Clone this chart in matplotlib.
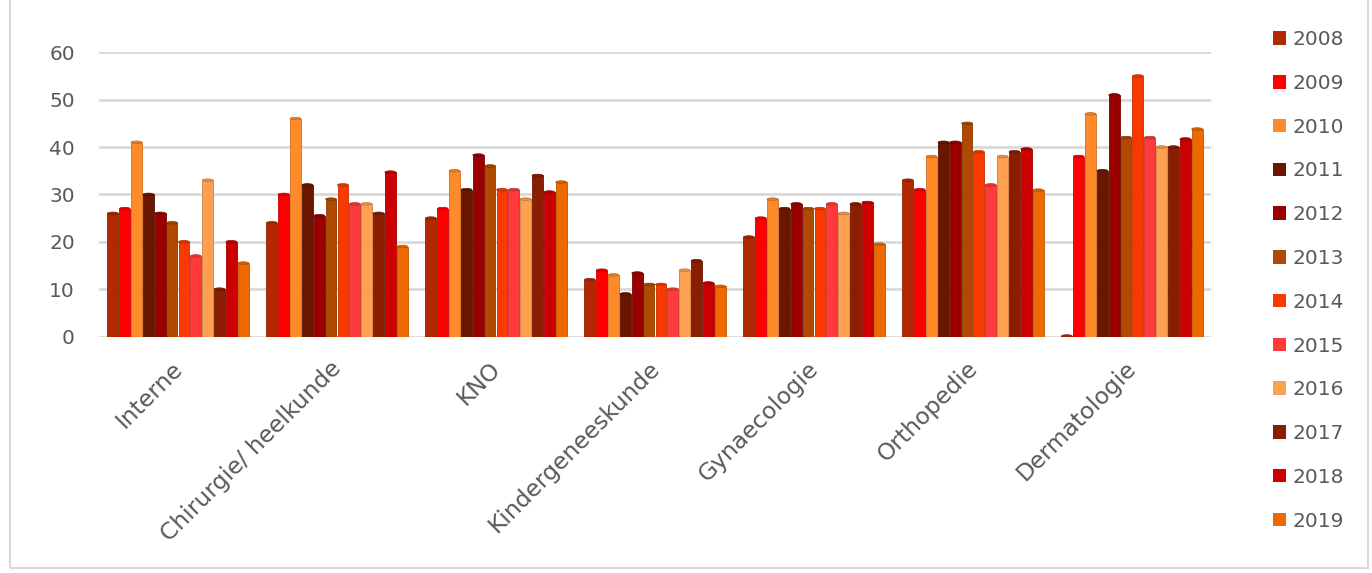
import numpy as np
import matplotlib.pyplot as plt
from matplotlib.patches import Ellipse, Rectangle, Patch
from matplotlib.colors import to_rgb
from matplotlib.transforms import ScaledTranslation

specialismen = ['Interne', 'Chirurgie/ heelkunde', 'KNO', 'Kindergeneeskunde',
                'Gynaecologie', 'Orthopedie', 'Dermatologie']
jaren = ['2008', '2009', '2010', '2011', '2012', '2013',
         '2014', '2015', '2016', '2017', '2018', '2019']

# waarden per jaar, in de volgorde van specialismen
w2008 = [26, 24, 25, 12, 21, 33, 0.1]
w2009 = [27, 30, 27, 14, 25, 31, 38]
w2010 = [41, 46, 35, 13, 29, 38, 47]
w2011 = [30, 32, 31, 9, 27, 41, 35]
w2012 = [26, 25.5, 38.3, 13.4, 28, 41, 51]
w2013 = [24, 29, 36, 11, 27, 45, 42]
w2014 = [20, 32, 31, 11, 27, 39, 55]
w2015 = [17, 28, 31, 10, 28, 32, 42]
w2016 = [33, 28, 29, 14, 26, 38, 40]
w2017 = [10, 26, 34, 16, 28, 39, 40]
w2018 = [20, 34.7, 30.5, 11.3, 28.3, 39.6, 41.7]
w2019 = [15.5, 19, 32.6, 10.6, 19.5, 30.9, 43.8]
waarden = [w2008, w2009, w2010, w2011, w2012, w2013,
           w2014, w2015, w2016, w2017, w2018, w2019]

kleuren = ['#B22800', '#FF0000', '#FF8A2A', '#6B1700', '#9A0000', '#B04A00',
           '#F83A00', '#FF3A3A', '#FFA050', '#8B1D00', '#CC0000', '#EE6A00']

tekst = '#595959'
plt.rcParams['font.family'] = ['DejaVu Sans']

fig = plt.figure(figsize=(13.72, 5.73), dpi=100)
ax = fig.add_axes([0.0718, 0.4127, 0.8112, 0.496])

n = len(jaren)
stap = 0.0745
breedte = 0.068
x = np.arange(len(specialismen))

def donkerder(c, f):
    r, g, b = to_rgb(c)
    return (r * f, g * f, b * f)

for i, (jaar, vals, kl) in enumerate(zip(jaren, waarden, kleuren)):
    pos = x + (i - (n - 1) / 2) * stap
    ax.bar(pos, vals, width=breedte, color=kl, edgecolor=donkerder(kl, 0.8),
           linewidth=0.6, zorder=3)
    # ronde bovenkant van de cilinders
    for p, v in zip(pos, vals):
        ax.add_patch(Ellipse((p, v), breedte, 0.55, facecolor=donkerder(kl, 0.9),
                             edgecolor=donkerder(kl, 0.75), linewidth=0.5, zorder=4))
        ax.add_patch(Ellipse((p, 0), breedte, 0.55, facecolor=kl,
                             edgecolor='none', zorder=2.9))

ax.set_xlim(-0.5, len(specialismen) - 0.5)
ax.set_ylim(0, 60)
ax.set_yticks(range(0, 61, 10))
ax.yaxis.grid(True, color='#D9D9D9', linewidth=2)
ax.set_axisbelow(True)
for s in ax.spines.values():
    s.set_visible(False)

ax.tick_params(axis='y', length=0, pad=17, labelsize=14.5, labelcolor=tekst)
ax.set_xticks(x)
ax.set_xticklabels(specialismen, rotation=45, ha='right', va='top',
                   rotation_mode='anchor', fontsize=16.8, color=tekst)
ax.tick_params(axis='x', length=0, pad=16)
verschuif = ScaledTranslation(-7 / 100, 2 / 100, fig.dpi_scale_trans)
for lab in ax.get_xticklabels():
    lab.set_transform(lab.get_transform() + verschuif)

handles = [Patch(facecolor=k, edgecolor='none') for k in kleuren]
fig.legend(handles, jaren, loc='upper left', bbox_to_anchor=(1255 / 1372, 1 - 12 / 573),
           frameon=False, fontsize=14.5, labelcolor=tekst, handlelength=0.65,
           handleheight=0.65, handletextpad=0.3, labelspacing=1.23)

# lichte rand rond de grafiek
fig.add_artist(Rectangle((10 / 1372, 0.008), 1358 / 1372, 1.2, transform=fig.transFigure,
                         fill=False, edgecolor='#D9D9D9', linewidth=1.5))

fig.savefig('out.png', dpi=100)
